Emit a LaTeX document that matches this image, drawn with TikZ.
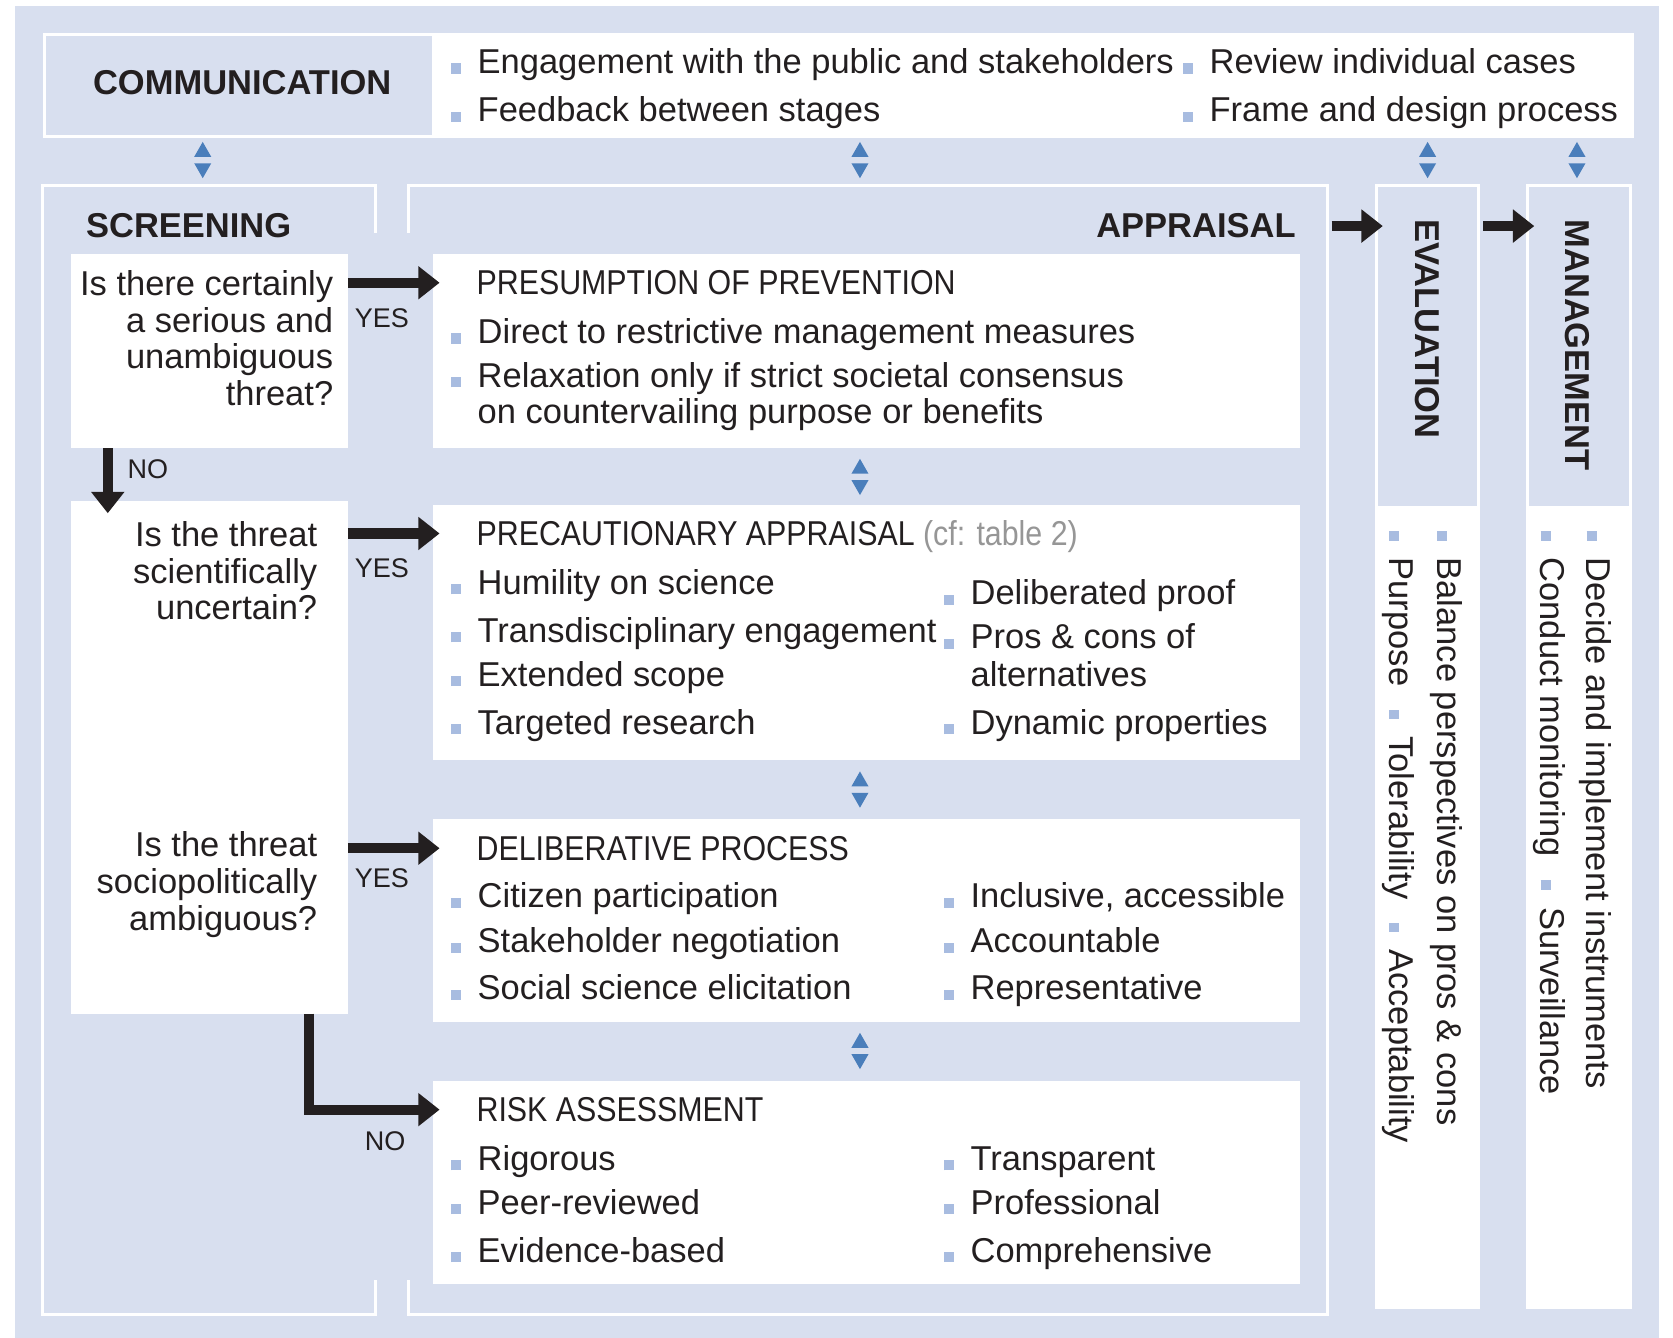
\documentclass[tikz,border=0pt]{standalone}
\usepackage{fontspec}
\setmainfont{Liberation Sans}
\newfontfamily\condfont[FakeStretch=0.88]{Liberation Sans}
\usetikzlibrary{positioning, arrows.meta}
\definecolor{paper}{RGB}{216,223,239}
\definecolor{ink}{RGB}{35,31,32}
\definecolor{bulletblue}{RGB}{168,188,224}
\definecolor{markerblue}{RGB}{74,126,187}
\definecolor{cfgray}{RGB}{150,150,150}
\newcommand{\txtfont}{\fontsize{9.2}{11}\selectfont}
\newcommand{\qfont}{\fontsize{9.2}{9.76}\selectfont}
\newcommand{\ynfont}{\fontsize{7.2}{8}\selectfont}
\newcommand{\sq}{{\color{bulletblue}\rule{0.9mm}{0.95mm}}\hspace{1.6mm}}
\tikzset{
    area/.style={inner sep=0pt, outer sep=0pt, draw=none},
    panel/.style={area, fill=white},
    frame/.style={draw=white, line width=0.8pt},
    hd/.style={inner sep=0pt, font=\txtfont\bfseries, text=ink},
    ttl/.style={inner sep=0pt, font=\condfont\txtfont, text=ink, anchor=west, text depth=0pt},
    item/.style={inner sep=0pt, font=\txtfont, text=ink, anchor=base west},
    vitem/.style={item, rotate=-90},
    qtext/.style={inner sep=0pt, font=\qfont, text=ink, align=right, anchor=north east},
    yn/.style={inner sep=0pt, font=\ynfont, text=ink},
    bigarrow/.style={draw=ink, line width=0.95mm, line join=miter, -{Triangle[length=2mm,width=3mm]}, shorten >=-0.6mm},
    updown/.pic={
        \fill[markerblue] (-8,-3) -- (8,-3) -- (0,-17) -- cycle;
        \fill[markerblue] (-8,3) -- (8,3) -- (0,17) -- cycle;
    },
}
\begin{document}
\begin{tikzpicture}[x=0.1mm, y=-0.1mm]
    \useasboundingbox (0,0) rectangle (1568,1254);
    \fill[paper] (14,6) rectangle (1555,1254);

    % communication band
    \node[area, minimum width=148.8mm, minimum height=9.6mm] (comm) at (786,80) {};
    \node[panel, minimum width=112.5mm, minimum height=9.6mm] (commlist) at (967.5,80) {};
    \draw[frame] (comm.south west) rectangle (comm.north east);
    \node[hd, anchor=base] (commtitle) at (227,89) {COMMUNICATION};
    \node[item] (c1) at (422,69) {\sq Engagement with the public and stakeholders};
    \node[item] (c2) at (422,114) {\sq Feedback between stages};
    \node[item] (c3) at (1108,69) {\sq Review individual cases};
    \node[item] (c4) at (1108,114) {\sq Frame and design process};

    \foreach \mx in {190, 806, 1338, 1478} \pic at (\mx,150) {updown};
    \foreach \my in {447, 740, 985} \pic at (806,\my) {updown};

    % screening and appraisal frames
    \node[area, minimum width=31.2mm, minimum height=105.8mm] (scr) at (196,703) {};
    \node[area, minimum width=86.1mm, minimum height=105.8mm] (appr) at (813.5,703) {};
    \draw[frame] ([yshift=-4.4mm]scr.north east) -- (scr.north east) -- (scr.north west) -- (scr.south west) -- (scr.south east) -- ([yshift=3.2mm]scr.south east);
    \draw[frame] ([yshift=-4.4mm]appr.north west) -- (appr.north west) -- (appr.north east) -- (appr.south east) -- (appr.south west) -- ([yshift=3.2mm]appr.south west);
    \node[hd, anchor=base west] (scrtitle) at (80,223) {SCREENING};
    \node[hd, anchor=base east] (apprtitle) at (1215,223) {APPRAISAL};

    % screening questions
    \node[panel, minimum width=25.9mm, minimum height=18.2mm] (q1) at (196.5,329) {};
    \node[panel, minimum width=25.9mm, minimum height=48mm] (q2) at (196.5,710) {};
    \node[qtext] (q1text) at (313,253) {Is there certainly\\a serious and\\unambiguous\\threat?};
    \node[qtext] (q2text) at (298,488) {Is the threat\\scientifically\\uncertain?};
    \node[qtext] (q3text) at (298,779) {Is the threat\\sociopolitically\\ambiguous?};

    % appraisal boxes
    \node[panel, minimum width=81.2mm, minimum height=18.2mm] (presum) at (812,329) {};
    \node[panel, minimum width=81.2mm, minimum height=23.9mm] (precau) at (812,592.5) {};
    \node[panel, minimum width=81.2mm, minimum height=19mm] (delib) at (812,863) {};
    \node[panel, minimum width=81.2mm, minimum height=19mm] (risk) at (812,1108) {};

    \node[ttl] (presumtitle) at (446,265) {PRESUMPTION OF PREVENTION};
    \node[item] (pr1) at (422,322) {\sq Direct to restrictive management measures};
    \node[item] (pr2) at (422,363) {\sq Relaxation only if strict societal consensus};
    \node[item] (pr3) at (447,397) {on countervailing purpose or benefits};

    \node[ttl] (precautitle) at (446,500) {PRECAUTIONARY APPRAISAL \textcolor{cfgray}{(cf: table 2)}};
    \node[item] (pc1) at (422,557) {\sq Humility on science};
    \node[item] (pc2) at (422,602) {\sq Transdisciplinary engagement};
    \node[item] (pc3) at (422,643) {\sq Extended scope};
    \node[item] (pc4) at (422,688) {\sq Targeted research};
    \node[item] (pc5) at (884,567) {\sq Deliberated proof};
    \node[item] (pc6) at (884,608) {\sq Pros \& cons of};
    \node[item] (pc7) at (909,643) {alternatives};
    \node[item] (pc8) at (884,688) {\sq Dynamic properties};

    \node[ttl] (delibtitle) at (446,795) {DELIBERATIVE PROCESS};
    \node[item] (dp1) at (422,851) {\sq Citizen participation};
    \node[item] (dp2) at (422,893) {\sq Stakeholder negotiation};
    \node[item] (dp3) at (422,937) {\sq Social science elicitation};
    \node[item] (dp4) at (884,851) {\sq Inclusive, accessible};
    \node[item] (dp5) at (884,893) {\sq Accountable};
    \node[item] (dp6) at (884,937) {\sq Representative};

    \node[ttl] (risktitle) at (446,1040) {RISK ASSESSMENT};
    \node[item] (ra1) at (422,1097) {\sq Rigorous};
    \node[item] (ra2) at (422,1138) {\sq Peer-reviewed};
    \node[item] (ra3) at (422,1183) {\sq Evidence-based};
    \node[item] (ra4) at (884,1097) {\sq Transparent};
    \node[item] (ra5) at (884,1138) {\sq Professional};
    \node[item] (ra6) at (884,1183) {\sq Comprehensive};

    % screening decisions
    \draw[bigarrow] (q1.east |- presumtitle.west) -- (presum.west |- presumtitle.west);
    \draw[bigarrow] (q2.east |- precautitle.west) -- (precau.west |- precautitle.west);
    \draw[bigarrow] (q2.east |- delibtitle.west) -- (delib.west |- delibtitle.west);
    \draw[bigarrow, shorten >=-1.1mm] ([xshift=-9.55mm]q1.south) -- ([xshift=-9.55mm]q2.north);
    \draw[bigarrow] ([xshift=9.35mm]q2.south) |- (risk.west |- risktitle.west);
    \node[yn, anchor=base] (yes1) at (358,307) {YES};
    \node[yn, anchor=base] (yes2) at (358,541) {YES};
    \node[yn, anchor=base] (yes3) at (358,832) {YES};
    \node[yn, anchor=base west] (no1) at (119,448) {NO};
    \node[yn, anchor=base] (no2) at (361,1078) {NO};

    % evaluation and management
    \node[area, minimum width=9.6mm, minimum height=30.2mm] (evalhead) at (1338,325) {};
    \node[panel, minimum width=9.6mm, minimum height=74.9mm] (evalbody) at (1338,850.5) {};
    \draw[frame] (evalhead.north west) rectangle (evalbody.south east);
    \draw[frame] (evalhead.south west) -- (evalhead.south east);
    \node[area, minimum width=9.6mm, minimum height=30.2mm] (mgmthead) at (1480,325) {};
    \node[panel, minimum width=9.6mm, minimum height=74.9mm] (mgmtbody) at (1480,850.5) {};
    \draw[frame] (mgmthead.north west) rectangle (mgmtbody.south east);
    \draw[frame] (mgmthead.south west) -- (mgmthead.south east);

    \draw[bigarrow, shorten <=0.4mm] (appr.east |- apprtitle.east) -- (evalhead.west |- apprtitle.east);
    \draw[bigarrow, shorten <=0.4mm] (evalhead.east |- apprtitle.east) -- (mgmthead.west |- apprtitle.east);

    \node[hd, rotate=-90, anchor=base west] (evaltitle) at (1327,205) {EVALUATION};
    \node[hd, rotate=-90, anchor=base west] (mgmttitle) at (1467,205) {MANAGEMENT};
    \node[vitem] (ev1) at (1347,497) {\sq Balance perspectives on pros \& cons};
    \node[vitem] (ev2) at (1302,497) {\sq Purpose\hspace{2.2mm}\sq Tolerability\hspace{2.2mm}\sq Acceptability};
    \node[vitem] (mg1) at (1487,497) {\sq Decide and implement instruments};
    \node[vitem] (mg2) at (1444,497) {\sq Conduct monitoring\hspace{2.2mm}\sq Surveillance};
\end{tikzpicture}
\end{document}
